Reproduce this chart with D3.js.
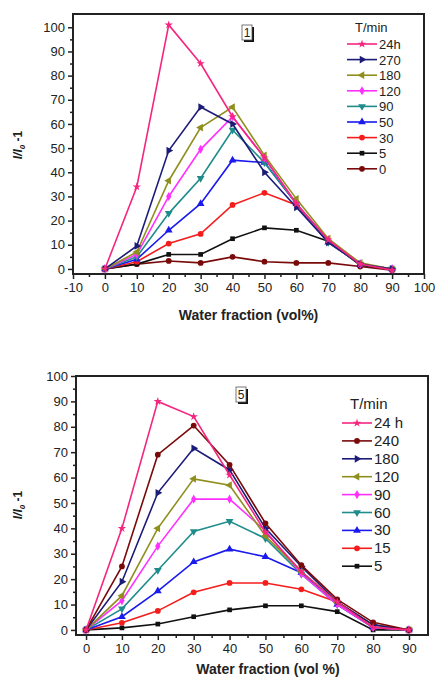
<!DOCTYPE html>
<html>
<head>
<meta charset="UTF-8">
<script src="https://d3js.org/d3.v7.min.js"></script>
<style>
  body { margin: 0; background: #fff; }
  text { font-family: "Liberation Sans", Arial, sans-serif; fill: #222; }
</style>
</head>
<body>
<script>
// water fraction (vol%)
var xs = [0, 10, 20, 30, 40, 50, 60, 70, 80, 90];

// panel 1 series (T/min)
var names1 = ["24h", "270", "180", "120", "90", "50", "30", "5", "0"];
var s1_24h = [0, 34, 101, 85, 63, 46, 27, 12, 2, -0.5];
var s1_270 = [0, 9.5, 49, 67, 60, 40, 25.5, 11, 2, 0];
var s1_180 = [0, 7, 36.5, 58.5, 67, 47, 29, 12.5, 2.5, 0];
var s1_120 = [0, 6, 30, 49.5, 63, 46, 27, 12, 2, 0];
var s1_90 = [0, 5, 23, 37.5, 57.5, 44, 27, 11, 2, 0];
var s1_50 = [0, 4, 16, 27, 45, 44, 27, 11, 2, 0];
var s1_30 = [0, 3, 10.5, 14.5, 26.5, 31.5, 26.5, 11, 2, 0];
var s1_5 = [0, 2, 6, 6, 12.5, 17, 16, 11.5, 1.5, 0];
var s1_0 = [0, 2, 3.3, 2.5, 5, 3, 2.5, 2.5, 1, -0.5];

// panel 5 series (T/min)
var names5 = ["24 h", "240", "180", "120", "90", "60", "30", "15", "5"];
var s5_24h = [0, 40, 90, 84, 61, 38.5, 23, 11, 1, 0];
var s5_240 = [0, 25, 69, 80.5, 65, 42, 25.5, 12, 3, 0];
var s5_180 = [0, 19, 54, 71.5, 63, 40, 25, 11, 2, 0];
var s5_120 = [0, 13.5, 40, 59.5, 57, 37, 23, 11, 2, 0];
var s5_90 = [0, 11.5, 33, 51.5, 51.5, 39, 22, 10, 1, 0];
var s5_60 = [0, 8.3, 23.5, 38.8, 42.8, 36, 22, 10, 1, 0];
var s5_30 = [0, 5.2, 15.3, 26.8, 31.8, 28.8, 22.5, 10, 1, 0];
var s5_15 = [0, 2.8, 7.5, 14.8, 18.5, 18.5, 16, 11, 2, 0];
var s5_5 = [0, 0.8, 2.3, 5.2, 7.9, 9.5, 9.5, 7.2, 0, 0];

var xTicks1 = [-10, 0, 10, 20, 30, 40, 50, 60, 70, 80, 90, 100];
var xTicks5 = [0, 10, 20, 30, 40, 50, 60, 70, 80, 90];
var yTicks = [0, 10, 20, 30, 40, 50, 60, 70, 80, 90, 100];

var svg = d3.select("body").append("svg").attr("width", 438).attr("height", 681);

function marker(type) {
  var rot = 0, sym = d3.symbolCircle, size = 26;
  if (type == "star") { sym = d3.symbolStar; size = 22; }
  if (type == "tri") { sym = d3.symbolTriangle; size = 26; }
  if (type == "triR") { sym = d3.symbolTriangle; rot = 90; size = 26; }
  if (type == "triL") { sym = d3.symbolTriangle; rot = -90; size = 26; }
  if (type == "triD") { sym = d3.symbolTriangle; rot = 180; size = 26; }
  if (type == "diamond") { sym = d3.symbolDiamond; size = 24; }
  if (type == "square") { sym = d3.symbolSquare; size = 22; }
  return { path: d3.symbol().type(sym).size(size)(), rot: rot };
}

function panel(o) {
  var g = svg.append("g");
  var x = d3.scaleLinear().domain(o.xdom).range([o.left, o.right]);
  var y = d3.scaleLinear().domain(o.ydom).range([o.bottom, o.top]);

  // frame
  g.append("rect").attr("x", o.left).attr("y", o.top)
    .attr("width", o.right - o.left).attr("height", o.bottom - o.top)
    .attr("fill", "none").attr("stroke", "#222").attr("stroke-width", 2);

  // axes
  g.append("g").attr("transform", "translate(0," + o.bottom + ")")
    .call(d3.axisBottom(x).tickValues(o.xticks).tickSize(5).tickPadding(4)
      .tickFormat(function (d) { return String(d); }));
  g.append("g").attr("transform", "translate(0," + o.bottom + ")")
    .call(d3.axisBottom(x).tickValues(o.xminor).tickSize(3).tickFormat(""));
  g.append("g").attr("transform", "translate(" + o.left + ",0)")
    .call(d3.axisLeft(y).tickValues(yTicks).tickSize(5).tickPadding(3));
  g.append("g").attr("transform", "translate(" + o.left + ",0)")
    .call(d3.axisLeft(y).tickValues(d3.range(5, 100, 10)).tickSize(3).tickFormat(""));
  g.selectAll(".domain").attr("stroke", "none");
  g.selectAll(".tick line").attr("stroke", "#222").attr("stroke-width", 1.5);
  g.selectAll(".tick text").attr("font-size", 13).attr("fill", "#333")
    .style("font-family", "'Liberation Sans', Arial, sans-serif");

  // axis titles
  g.append("text").attr("x", (o.left + o.right) / 2 + o.xtitleShift).attr("y", o.xtitleY)
    .attr("text-anchor", "middle").attr("font-size", 14).attr("font-weight", "bold").text(o.xtitle);
  var yt = g.append("text").attr("transform", "translate(" + o.ytitleX + "," + o.ytitleY + ") rotate(-90)")
    .attr("text-anchor", "middle").attr("font-size", 12).attr("font-weight", "bold");
  yt.append("tspan").attr("font-style", "italic").text("I/I");
  yt.append("tspan").attr("font-style", "italic").attr("font-size", 8).attr("dy", 3).text("0");
  yt.append("tspan").attr("dy", -3).text(" -1");

  // panel number box
  var bx = o.boxX, by = o.boxY;
  g.append("rect").attr("x", bx + 2).attr("y", by + 2).attr("width", 10).attr("height", 15).attr("fill", "#111");
  g.append("rect").attr("x", bx).attr("y", by).attr("width", 10).attr("height", 15)
    .attr("fill", "#fff").attr("stroke", "#555").attr("stroke-width", 0.8);
  g.append("text").attr("x", bx + 5).attr("y", by + 12).attr("text-anchor", "middle")
    .attr("font-size", 12).text(o.boxLabel);

  // series (draw last legend entry first)
  var line = d3.line().x(function (d) { return x(d[0]); }).y(function (d) { return y(d[1]); });
  var rev = o.series.slice().reverse();
  rev.forEach(function (s) {
    var pts = xs.map(function (v, i) { return [v, s.vals[i]]; });
    g.append("path").datum(pts).attr("d", line).attr("fill", "none")
      .attr("stroke", s.color).attr("stroke-width", 1.6);
    var m = marker(s.mk);
    g.selectAll(null).data(pts).enter().append("path")
      .attr("d", m.path)
      .attr("transform", function (d) { return "translate(" + x(d[0]) + "," + y(d[1]) + ") rotate(" + m.rot + ")"; })
      .attr("fill", s.color);
  });

  // legend
  g.append("text").attr("x", o.legX + 8).attr("y", o.legY - o.legStep + 4)
    .attr("font-size", o.legFont).text("T/min");
  o.series.forEach(function (s, i) {
    var ly = o.legY + i * o.legStep;
    g.append("line").attr("x1", o.legX).attr("x2", o.legX + 30).attr("y1", ly).attr("y2", ly)
      .attr("stroke", s.color).attr("stroke-width", 1.6);
    var m = marker(s.mk);
    g.append("path").attr("d", m.path)
      .attr("transform", "translate(" + (o.legX + 15) + "," + ly + ") rotate(" + m.rot + ")")
      .attr("fill", s.color);
    g.append("text").attr("x", o.legX + 32).attr("y", ly + 5).attr("font-size", o.legFont).text(s.name);
  });
}

var pink = "#f5267f", navy = "#1c1c78", olive = "#8f8f1e", mag = "#ff30ff",
    teal = "#1f8c8c", blue = "#1a1aee", red = "#f51c1c", black = "#111", maroon = "#7a0a0a";

panel({
  left: 73, right: 424, top: 14, bottom: 274,
  xdom: [-10, 100], ydom: [-2.1, 105.5],
  xticks: xTicks1, xminor: d3.range(-5, 100, 10),
  xtitle: "Water fraction (vol%)", xtitleY: 320, xtitleShift: 0,
  ytitleX: 22, ytitleY: 145,
  boxX: 242, boxY: 25, boxLabel: "1",
  legX: 347, legY: 44, legStep: 15.6, legFont: 13,
  series: [
    { name: names1[0], vals: s1_24h, color: pink, mk: "star" },
    { name: names1[1], vals: s1_270, color: navy, mk: "triR" },
    { name: names1[2], vals: s1_180, color: olive, mk: "triL" },
    { name: names1[3], vals: s1_120, color: mag, mk: "diamond" },
    { name: names1[4], vals: s1_90, color: teal, mk: "triD" },
    { name: names1[5], vals: s1_50, color: blue, mk: "tri" },
    { name: names1[6], vals: s1_30, color: red, mk: "circle" },
    { name: names1[7], vals: s1_5, color: black, mk: "square" },
    { name: names1[8], vals: s1_0, color: maroon, mk: "circle" }
  ]
});

panel({
  left: 76, right: 428, top: 376, bottom: 635,
  xdom: [-2.8, 95.3], ydom: [-2, 100],
  xticks: xTicks5, xminor: d3.range(5, 95, 10),
  xtitle: "Water fraction (vol %)", xtitleY: 674, xtitleShift: 16,
  ytitleX: 22, ytitleY: 505,
  boxX: 236, boxY: 387, boxLabel: "5",
  legX: 342, legY: 423, legStep: 17.9, legFont: 15,
  series: [
    { name: names5[0], vals: s5_24h, color: pink, mk: "star" },
    { name: names5[1], vals: s5_240, color: maroon, mk: "circle" },
    { name: names5[2], vals: s5_180, color: navy, mk: "triR" },
    { name: names5[3], vals: s5_120, color: olive, mk: "triL" },
    { name: names5[4], vals: s5_90, color: mag, mk: "diamond" },
    { name: names5[5], vals: s5_60, color: teal, mk: "triD" },
    { name: names5[6], vals: s5_30, color: blue, mk: "tri" },
    { name: names5[7], vals: s5_15, color: red, mk: "circle" },
    { name: names5[8], vals: s5_5, color: black, mk: "square" }
  ]
});
</script>
</body>
</html>
